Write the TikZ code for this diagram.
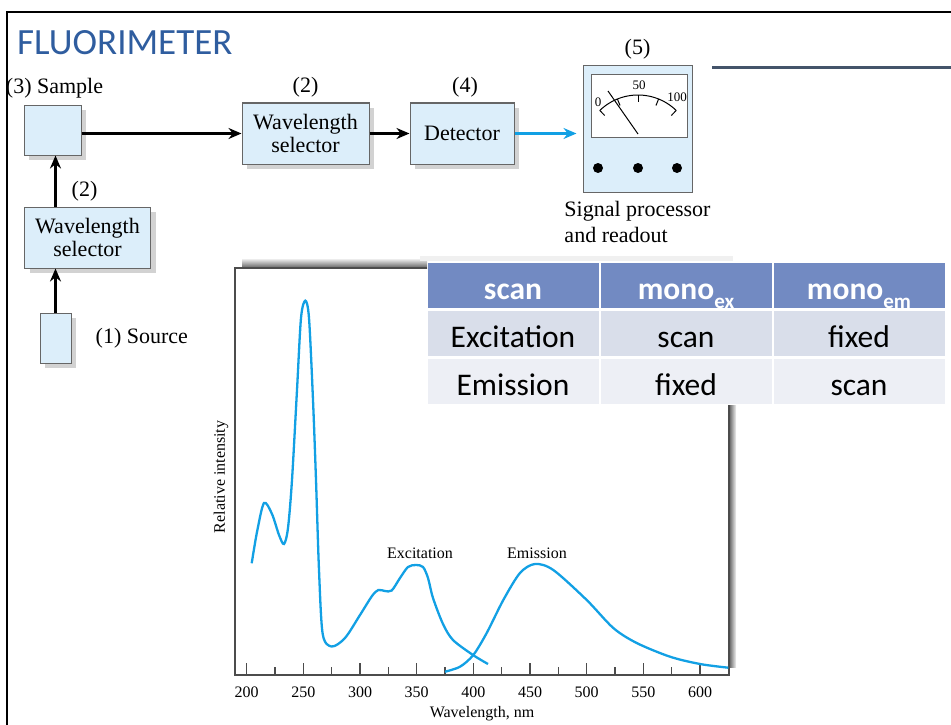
\documentclass[tikz,border=0pt]{standalone}
\usepackage{fontspec}
\setmainfont{Liberation Serif}
\newfontfamily\calibri{Carlito}
\usetikzlibrary{positioning,arrows.meta,shadows}
\definecolor{boxblue}{RGB}{220,238,250}
\definecolor{specblue}{RGB}{18,160,228}
\definecolor{titleblue}{RGB}{47,93,159}
\definecolor{rulegray}{RGB}{68,84,106}
\definecolor{headblue}{RGB}{114,138,194}
\definecolor{rowone}{RGB}{217,222,234}
\definecolor{rowtwo}{RGB}{237,239,245}
\newcommand{\lblsize}{\fontsize{22}{23}\selectfont}
\newcommand{\axsize}{\fontsize{16}{18}\selectfont}
\newcommand{\tabsize}{\calibri\fontsize{31.5}{32}\selectfont}
\newcommand{\subtxt}[1]{\raisebox{-9pt}{\fontsize{21}{21}\selectfont #1}}

\begin{document}
\begin{tikzpicture}[x=1pt,y=-1pt,
    blockbox/.style={draw=gray!80!black,fill=boxblue,line width=1pt,inner sep=0pt,
      align=center,font=\lblsize,
      drop shadow={shadow xshift=5pt,shadow yshift=-5pt,fill=gray!70,opacity=.5}},
    lbl/.style={font=\lblsize,inner sep=0pt},
    flow/.style={line width=2.5pt,-{Stealth[length=13pt,width=11pt]}},
    spec/.style={specblue,line width=2.3pt},
    cell/.style={minimum width=171pt,minimum height=45pt,inner sep=0pt,font=\tabsize,
      text height=30pt,text depth=2pt}]
  \useasboundingbox (0,0) rectangle (951,725);

  \node (title) [anchor=base west,inner sep=0pt,text=titleblue,
    font=\calibri\fontsize{37}{40}\selectfont] at (17,55) {FLUORIMETER};
  \draw[rulegray,line width=3pt] (712,68) -- (951,68);

  % block diagram
  \node (sample) [blockbox,minimum width=57pt,minimum height=50pt] at (52.5,130) {};
  \node (topsel) [blockbox,minimum width=127pt,minimum height=61pt] at (305.5,133.5) {Wavelength\\selector};
  \node (det) [blockbox,minimum width=104pt,minimum height=61pt] at (462,133.5) {Detector};
  \node (leftsel) [blockbox,minimum width=126pt,minimum height=61pt] at (87.5,237.5) {Wavelength\\selector};
  \node (source) [blockbox,minimum width=31pt,minimum height=50pt] at (55.5,338) {};
  \node (meter) [draw=gray!80!black,fill=boxblue,line width=1pt,minimum width=109pt,
    minimum height=126pt] at (637.5,129) {};
  \node (screen) [draw=gray!80!black,fill=white,line width=1pt,minimum width=96pt,
    minimum height=62pt] at (639,106) {};

  \node (samplelbl) [lbl,above=6pt of sample.north,xshift=2pt] {(3) Sample};
  \node (topsellbl) [lbl,above=5pt of topsel] {(2)};
  \node (detlbl) [lbl,above=5pt of det,xshift=3pt] {(4)};
  \node (meterlbl) [lbl,above=6pt of meter] {(5)};
  \node (leftsellbl) [lbl,above=5pt of leftsel,xshift=-3pt] {(2)};
  \node (srclbl) [lbl,right=24pt of source] {(1) Source};
  \node (readout) [lbl,below=9pt of meter,align=left,font=\fontsize{22}{25.5}\selectfont] {Signal processor\\and readout};

  \draw[flow] (topsel.west -| sample.east) -- (topsel.west);
  \draw[flow] (topsel.east) -- (det.west);
  \draw[flow,specblue] (det.east) -- ([xshift=-6pt]det.east -| meter.west);
  \draw[flow] (source.north) -- (leftsel.south -| source.north);
  \draw[flow] (leftsel.north -| source.north) -- (sample.south -| source.north);

  % meter face
  \draw[line width=1pt] plot[domain=46:134,samples=30] ({638+55*cos(\x)},{150-55*sin(\x)});
  \foreach \a in {46,68,90,112,134}
    \draw[line width=1pt] ({638+55*cos(\a)},{150-55*sin(\a)}) -- ({638+48*cos(\a)},{150-48*sin(\a)});
  \draw[line width=1pt] (608,91) -- (638,134);
  \node (zero) [inner sep=0pt,font=\fontsize{13}{13}\selectfont] at (598,102) {0};
  \node (fifty) [inner sep=0pt,font=\fontsize{13}{13}\selectfont] at (639,85) {50};
  \node (hundred) [inner sep=0pt,font=\fontsize{13}{13}\selectfont] at (677,97) {100};
  \foreach \x in {598,638,677}
    \fill (\x,168) circle[radius=5pt];

  % spectra
  \shade[top color=gray!15,bottom color=gray!75!black] (242,259) rectangle (427,268);
  \shade[left color=gray!75!black,right color=gray!10] (729,405) rectangle (736,667);
  \draw[gray!60!black,line width=1.2pt] (427,268) -- (235,268) -- (235,675) -- (729,675) -- (729,405);
  \foreach \l in {200,250,...,600} {
    \draw[gray!60!black,line width=1.2pt] ({246.7+(\l-200)*1.1333},675) -- ++(0,-12);
    \node (t\l) [inner sep=0pt,font=\axsize] at ({246.7+(\l-200)*1.1333},692) {\l};
  }
  \foreach \l in {225,275,...,575}
    \draw[gray!60!black,line width=1.2pt] ({246.7+(\l-200)*1.1333},675) -- ++(0,-8);
  \node (xlbl) [inner sep=0pt,font=\axsize] at (482,714) {Wavelength, nm};
  \node (ylbl) [inner sep=0pt,font=\axsize,rotate=90] at (221,477) {Relative intensity};

  \draw[spec] plot[smooth,tension=0.5] coordinates {(251.7,563.3) (257,532) (264,503) (272,514)
    (279,535) (284,544) (288,528) (292,480) (297,390) (301,318) (305.3,300.7) (309,318)
    (313,400) (316,480) (319,570) (322.7,634) (331.7,646.5) (345,638) (360,615) (372,596)
    (378.3,590) (385,591) (391.7,590.5) (400,578) (408,567) (416,565) (423,567) (428,578)
    (433,598) (443,624) (453,640) (473,655) (488,664)};
  \draw[spec] plot[smooth,tension=0.5] coordinates {(445,671.7) (460,666.7) (473.3,655)
    (486.7,633) (503.3,600) (520,573) (535,564) (553.3,570) (586.7,600) (613.3,628)
    (636.7,643) (670,656.7) (700,664) (728.3,667.7)};
  \node (exlbl) [inner sep=0pt,font=\axsize] at (420,553) {Excitation};
  \node (emlbl) [inner sep=0pt,font=\axsize] at (537,553) {Emission};

  % table
  \fill[gray!12] (420,256) rectangle (733,261);
  \node (h1) [cell,fill=headblue,text=white,font=\tabsize\bfseries] at (513,285) {scan};
  \node (h2) [cell,fill=headblue,text=white,font=\tabsize\bfseries] at (686,285) {mono\subtxt{ex}};
  \node (h3) [cell,fill=headblue,text=white,font=\tabsize\bfseries] at (859,285) {mono\subtxt{em}};
  \node (a1) [cell,fill=rowone] at (513,333) {Excitation};
  \node (a2) [cell,fill=rowone] at (686,333) {scan};
  \node (a3) [cell,fill=rowone] at (859,333) {fixed};
  \node (b1) [cell,fill=rowtwo] at (513,381) {Emission};
  \node (b2) [cell,fill=rowtwo] at (686,381) {fixed};
  \node (b3) [cell,fill=rowtwo] at (859,381) {scan};

  % slide frame
  \draw[line width=2.5pt] (7,725) -- (7,12) -- (951,12);
\end{tikzpicture}
\end{document}
